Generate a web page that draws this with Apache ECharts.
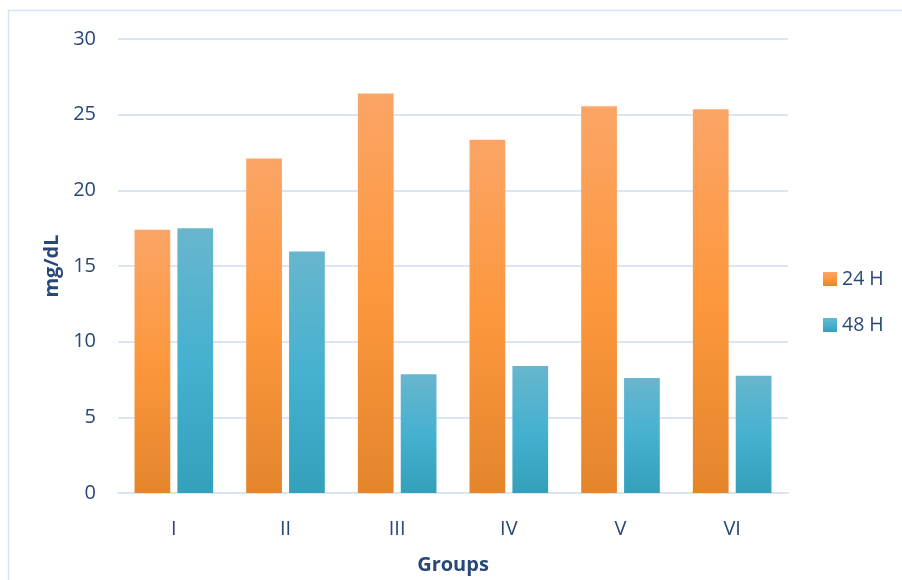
<!DOCTYPE html>
<html>
<head>
<meta charset="utf-8">
<script src="https://cdn.jsdelivr.net/npm/echarts@6/dist/echarts.min.js"></script>
<style>
  html, body { margin: 0; padding: 0; background: #ffffff; }
  #chart { width: 902px; height: 580px; }
</style>
</head>
<body>
<div id="chart"></div>
<script>
// Group labels along the x axis
const groups = ['I', 'II', 'III', 'IV', 'V', 'VI'];
// Measured values (mg/dL)
const values24h = [17.4, 22.1, 26.4, 23.35, 25.55, 25.35];
const values48h = [17.5, 15.95, 7.85, 8.4, 7.6, 7.75];
const seriesNames = ['24 H', '48 H'];

const textColor = '#284878';
const gridColor = '#dbe6f4';
const fontFamily = '"Open Sans", "Noto Sans", sans-serif';

function vGrad(top, mid, bottom) {
  return new echarts.graphic.LinearGradient(0, 0, 0, 1, [
    { offset: 0, color: top },
    { offset: 0.5, color: mid },
    { offset: 1, color: bottom }
  ]);
}

const orange = vGrad('#fba566', '#fd973d', '#e4852c');
const teal = vGrad('#68b6cd', '#46b1d0', '#35a0bb');

const chart = echarts.init(document.getElementById('chart'), null, { renderer: 'canvas' });

chart.setOption({
  backgroundColor: '#ffffff',
  animation: false,
  graphic: [{
    type: 'rect',
    shape: { x: 8.5, y: 10.5, width: 1000, height: 1000 },
    style: { fill: 'none', stroke: '#d5e3f4', lineWidth: 1.5 },
    silent: true
  }],
  grid: { left: 118, right: 114, top: 39, bottom: 86, containLabel: false },
  legend: {
    orient: 'vertical',
    left: 818,
    top: 264,
    itemWidth: 14,
    itemHeight: 14,
    itemGap: 26,
    icon: 'rect',
    textStyle: { color: textColor, fontSize: 19.5, fontFamily: fontFamily, padding: [0, 0, 0, 0] },
    data: seriesNames
  },
  xAxis: {
    type: 'category',
    data: groups,
    name: 'Groups',
    nameLocation: 'middle',
    nameGap: 62,
    nameTextStyle: { color: textColor, fontSize: 20, fontWeight: 'bold', fontFamily: fontFamily },
    axisLine: { show: true, lineStyle: { color: gridColor, width: 2 } },
    axisTick: { show: false },
    axisLabel: { color: textColor, fontSize: 20, fontFamily: fontFamily, margin: 26 }
  },
  yAxis: {
    type: 'value',
    min: 0,
    max: 30,
    interval: 5,
    name: 'mg/dL',
    nameLocation: 'middle',
    nameGap: 55,
    nameRotate: 90,
    nameTextStyle: { color: textColor, fontSize: 20, fontWeight: 'bold', fontFamily: fontFamily },
    axisLine: { show: false },
    axisTick: { show: false },
    axisLabel: { color: textColor, fontSize: 20, fontFamily: fontFamily, margin: 22 },
    splitLine: { show: true, lineStyle: { color: gridColor, width: 2 } }
  },
  series: [
    {
      name: seriesNames[0],
      type: 'bar',
      data: values24h,
      barWidth: '32%',
      barGap: '20%',
      itemStyle: { color: orange }
    },
    {
      name: seriesNames[1],
      type: 'bar',
      data: values48h,
      barWidth: '32%',
      barGap: '20%',
      itemStyle: { color: teal }
    }
  ]
});
</script>
</body>
</html>
